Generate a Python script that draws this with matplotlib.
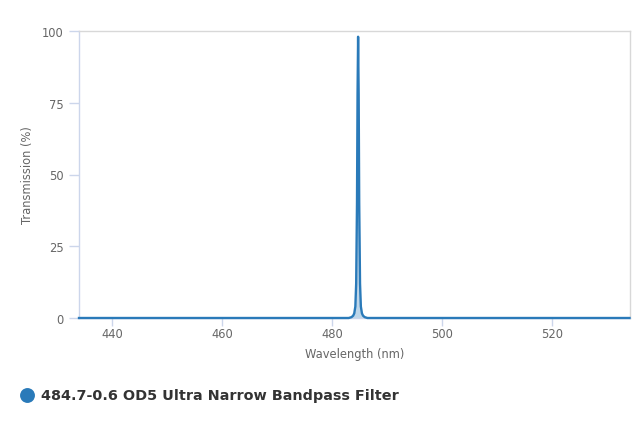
import matplotlib
matplotlib.use('Agg')
import matplotlib.pyplot as plt

# transmission spectrum
wavelength = [434.0, 483.0, 483.5, 483.8, 484.0, 484.2, 484.35, 484.5, 484.6,
              484.7, 484.8, 484.9, 485.05, 485.2, 485.4, 485.6, 485.9, 486.4, 534.0]
transmission = [0.0, 0.0, 0.3, 0.8, 1.6, 4.0, 12.0, 40.0, 78.0,
                98.0, 78.0, 40.0, 12.0, 4.0, 1.6, 0.8, 0.3, 0.0, 0.0]
xticks = [440, 460, 480, 500, 520]
yticks = [0, 25, 50, 75, 100]
series_name = '484.7-0.6 OD5 Ultra Narrow Bandpass Filter'

C_LINE = '#2a7ab9'
C_AXIS = '#ccd6eb'
C_BORDER = '#d8d8d8'
C_TEXT = '#666666'

fig = plt.figure(figsize=(6.4, 4.27), dpi=100)
ax = fig.add_axes([79 / 640, 108 / 427, 550.5 / 640, 287 / 427])

ax.fill_between(wavelength, transmission, 0, color=C_LINE, alpha=0.3, lw=0)
ax.plot(wavelength, transmission, color=C_LINE, lw=1.7, solid_joinstyle='round',
        clip_on=False, zorder=3)

ax.set_xlim(434, 534)
ax.set_ylim(0, 100)
ax.set_xticks(xticks)
ax.set_yticks(yticks)

for side in ('top', 'right'):
    ax.spines[side].set_color(C_BORDER)
    ax.spines[side].set_linewidth(1.0)
for side in ('left', 'bottom'):
    ax.spines[side].set_color(C_AXIS)
    ax.spines[side].set_linewidth(1.0)

ax.tick_params(axis='both', colors=C_AXIS, labelcolor=C_TEXT, labelsize=8.3,
               width=1.0)
ax.tick_params(axis='y', length=7, pad=4)
ax.tick_params(axis='x', length=6, pad=0.5)

ax.set_xlabel('Wavelength (nm)', color=C_TEXT, fontsize=8.3, labelpad=5)
ax.set_ylabel('Transmission (%)', color=C_TEXT, fontsize=8.3, labelpad=6)

# legend
lax = fig.add_axes([0, 0, 1, 1], facecolor='none')
lax.set_xlim(0, 640)
lax.set_ylim(427, 0)
lax.axis('off')
lax.scatter([27], [396], s=115, color=C_LINE, lw=0)
lax.text(41, 396.5, series_name, ha='left', va='center',
         fontsize=10.4, fontweight='bold', color='#333333')

fig.savefig('out.png', dpi=100, facecolor='white')
